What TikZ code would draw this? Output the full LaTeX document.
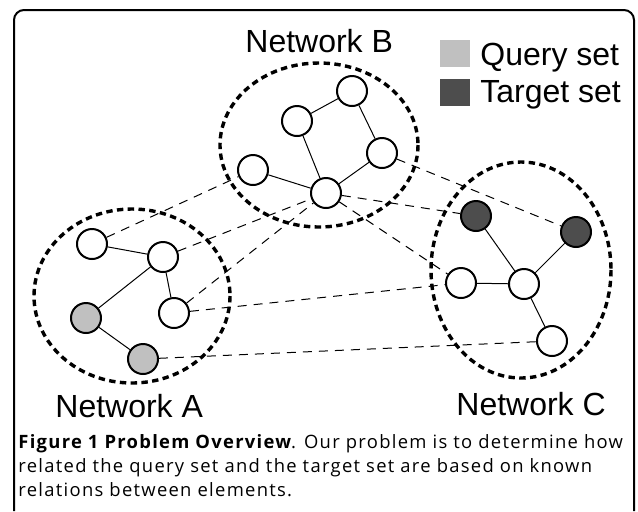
\documentclass[tikz,border=0pt]{standalone}
\usepackage{fontspec}
\setmainfont{Liberation Sans}
\newfontfamily\capfont[LetterSpace=7]{Open Sans}
\definecolor{querygray}{HTML}{C0C0C0}
\definecolor{targetgray}{HTML}{4D4D4D}
\tikzset{
	elem/.style={circle, draw, line width=1pt, fill=white, minimum size=15pt, inner sep=0pt},
	query/.style={elem, fill=querygray},
	target/.style={elem, fill=targetgray},
	link/.style={line width=0.5pt},
	cross/.style={line width=0.5pt, dash pattern=on 4.5pt off 3.5pt},
	netline/.style={line width=1.7pt, dash pattern=on 3.2pt off 2.2pt},
	netlabel/.style={anchor=base west, inner sep=0pt, font=\fontsize{16}{19}\selectfont},
	swatch/.style={draw=none, minimum width=15pt, minimum height=13.5pt, inner sep=0pt},
}
\begin{document}
\begin{tikzpicture}[x=0.5pt, y=-0.5pt, line join=round]
	\useasboundingbox (0,0) rectangle (638,511);
	% frame
	\draw[line width=1pt, rounded corners=5pt] (14,511) -- (14,10) -- (634,10) -- (634,511);

	% network outlines
	\draw[netline] (319,145) ellipse [x radius=99, y radius=82];
	\draw[netline] (132,296) ellipse [x radius=98, y radius=87];
	\draw[netline] (521,270) ellipse [x radius=90, y radius=108];

	% network A
	\node[elem]  (a1) at (92,244) {};
	\node[elem]  (a2) at (163,257) {};
	\node[elem]  (a3) at (174,313) {};
	\node[query] (a4) at (86,318) {};
	\node[query] (a5) at (143,359) {};
	% network B
	\node[elem] (b1) at (253,170) {};
	\node[elem] (b2) at (297,121) {};
	\node[elem] (b3) at (352,91) {};
	\node[elem] (b4) at (382,153) {};
	\node[elem] (b5) at (326,193) {};
	% network C
	\node[target] (c1) at (476,216) {};
	\node[target] (c2) at (576,232) {};
	\node[elem]   (c3) at (461,283) {};
	\node[elem]   (c4) at (524,284) {};
	\node[elem]   (c5) at (552,341) {};

	\foreach \u/\v in {a1/a2, a2/a4, a2/a3, a4/a5, b1/b5, b2/b5, b2/b3, b3/b4, b4/b5, c1/c4, c2/c4, c3/c4, c4/c5}
		\draw[link] (\u) -- (\v);
	\foreach \u/\v in {a1/b1, a2/b5, a3/b5, a3/c3, a5/c5, b5/c1, b5/c3, b4/c2}
		\draw[cross] (\u) -- (\v);

	\node[netlabel] (labb) at (245,52) {Network B};
	\node[netlabel] (laba) at (55,417) {Network A};
	\node[netlabel] (labc) at (456,415) {Network C};

	% legend
	\node[swatch, fill=querygray]  (kq) at (455,53.5) {};
	\node[swatch, fill=targetgray] (kt) at (455,92) {};
	\node[netlabel] (lq) at (480,65) {Query set};
	\node[netlabel] (lt) at (480,102) {Target set};

	% caption
	\node[anchor=north west, inner sep=0pt, align=left, font=\capfont\fontsize{9.2}{12}\selectfont] (cap) at (18,434)
		{\textbf{Figure 1 Problem Overview}. Our problem is to determine how\\
		related the query set and the target set are based on known\\
		relations between elements.};
\end{tikzpicture}
\end{document}
